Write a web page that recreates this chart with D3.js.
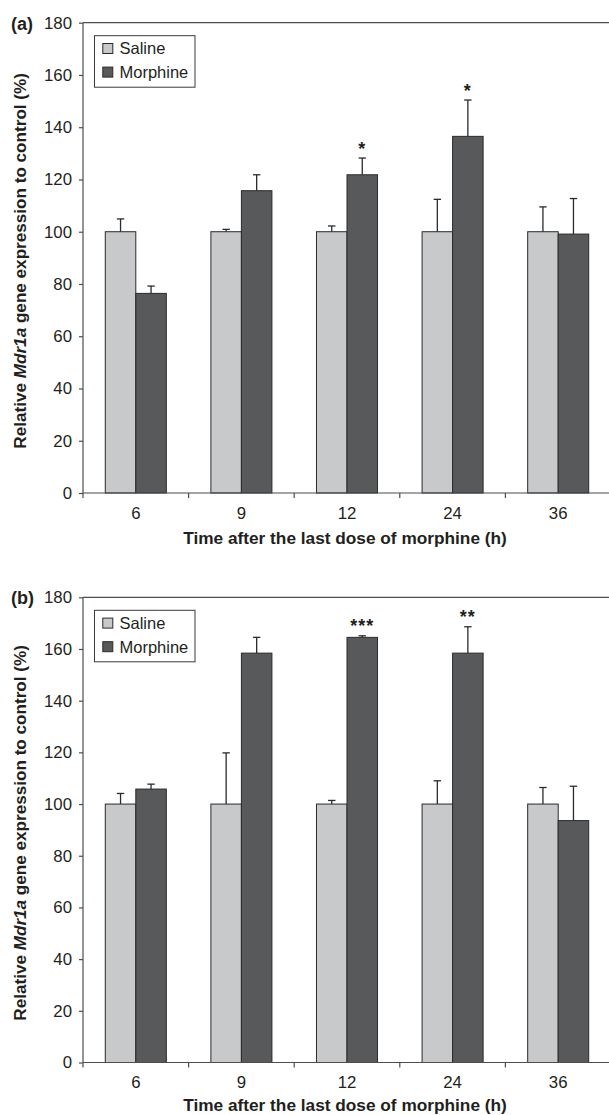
<!DOCTYPE html>
<html><head><meta charset="utf-8">
<script src="https://cdn.jsdelivr.net/npm/d3@7"></script>
<style>
html,body{margin:0;padding:0;background:#fff;}
svg{display:block;}
text{font-family:Arial,"Liberation Sans",Helvetica,sans-serif;fill:#231f20;}
</style></head>
<body>
<svg id="chart" width="609" height="1115"></svg>
<script>
const categories = ["6", "9", "12", "24", "36"];
const seriesNames = ["Saline", "Morphine"];
const yTicks = [0, 20, 40, 60, 80, 100, 120, 140, 160, 180];

// Panel (a)
const salineA = [100, 100, 100, 100, 100];
const salineErrA = [4.9, 0.9, 2.2, 12.4, 9.5];
const morphineA = [76.4, 115.7, 121.8, 136.5, 99.1];
const morphineErrA = [2.8, 6.1, 6.4, 13.9, 13.6];
const sigA = ["", "", "*", "*", ""];

// Panel (b)
const salineB = [100, 100, 100, 100, 100];
const salineErrB = [4.1, 19.8, 1.4, 9.0, 6.4];
const morphineB = [105.8, 158.4, 164.5, 158.4, 93.6];
const morphineErrB = [1.9, 6.1, 0.6, 10.2, 13.3];
const sigB = ["", "", "***", "**", ""];

const colors = {Saline: "#c8c9cb", Morphine: "#58595b"};
const svg = d3.select("#chart");

function fitFont(sel, base, target) {
  const len = sel.node().getComputedTextLength();
  if (len > 0) sel.attr("font-size", base * target / len);
}

function panel(opts) {
  const {label, top, bottom, titleGap, saline, salineErr, morphine, morphineErr, sig} = opts;
  const left = 83, right = 611;
  const g = svg.append("g");
  const x = d3.scaleBand().domain(categories).range([left, right]).padding(0);
  const x1 = d3.scaleBand().domain(seriesNames).range([0, x.bandwidth()]).paddingInner(0).paddingOuter(0.73);
  const y = d3.scaleLinear().domain([0, 180]).range([bottom, top]);

  const rows = categories.map((c, i) => ({
    cat: c,
    vals: [
      {s: "Saline", v: saline[i], e: salineErr[i]},
      {s: "Morphine", v: morphine[i], e: morphineErr[i]}
    ],
    sig: sig[i]
  }));

  // top frame line
  g.append("line").attr("x1", left).attr("x2", right).attr("y1", y(180)).attr("y2", y(180))
    .attr("stroke", "#4d4d4d").attr("stroke-width", 1.2);

  // bars
  const grp = g.selectAll("g.grp").data(rows).join("g").attr("class", "grp")
    .attr("transform", d => `translate(${x(d.cat)},0)`);
  grp.selectAll("line.err").data(d => d.vals).join("line").attr("class", "err")
    .attr("x1", d => x1(d.s) + x1.bandwidth() / 2).attr("x2", d => x1(d.s) + x1.bandwidth() / 2)
    .attr("y1", d => y(d.v)).attr("y2", d => y(d.v + d.e))
    .attr("stroke", "#2b2b2b").attr("stroke-width", 1.3);
  grp.selectAll("line.cap").data(d => d.vals).join("line").attr("class", "cap")
    .attr("x1", d => x1(d.s) + x1.bandwidth() / 2 - 3.7).attr("x2", d => x1(d.s) + x1.bandwidth() / 2 + 3.7)
    .attr("y1", d => y(d.v + d.e)).attr("y2", d => y(d.v + d.e))
    .attr("stroke", "#2b2b2b").attr("stroke-width", 1.3);
  grp.selectAll("rect").data(d => d.vals).join("rect")
    .attr("x", d => x1(d.s)).attr("width", x1.bandwidth())
    .attr("y", d => y(d.v)).attr("height", d => y(0) - y(d.v))
    .attr("fill", d => colors[d.s]).attr("stroke", "#2a2a2a").attr("stroke-width", 1);
  grp.filter(d => d.sig).append("text")
    .attr("x", x1("Morphine") + x1.bandwidth() / 2)
    .attr("y", d => y(d.vals[1].v + d.vals[1].e) - 3.5)
    .attr("text-anchor", "middle").attr("font-size", 18).attr("font-weight", "bold")
    .attr("letter-spacing", 1)
    .text(d => d.sig);

  // y axis
  const ya = g.append("g").attr("transform", `translate(${left},0)`)
    .call(d3.axisLeft(y).tickValues(yTicks).tickSize(4).tickPadding(7).tickFormat(d3.format("d")));
  ya.select(".domain").attr("stroke", "#4d4d4d").attr("stroke-width", 1.2).attr("d", `M0,${top}V${bottom}`);
  ya.selectAll(".tick line").attr("stroke", "#4d4d4d").attr("stroke-width", 1.2);
  ya.selectAll(".tick text").attr("font-size", 16.8).attr("fill", "#231f20")
    .attr("font-family", "Arial, 'Liberation Sans', sans-serif");

  // x axis
  const xa = g.append("g").attr("transform", `translate(0,${bottom})`)
    .call(d3.axisBottom(x).tickSize(0).tickPadding(14));
  xa.select(".domain").attr("stroke", "#4d4d4d").attr("stroke-width", 1.2).attr("d", `M${left},0H${right}`);
  xa.selectAll(".tick text").attr("font-size", 16.8).attr("fill", "#231f20")
    .attr("font-family", "Arial, 'Liberation Sans', sans-serif");
  g.selectAll("line.xt").data(categories).join("line").attr("class", "xt")
    .attr("x1", d => x(d)).attr("x2", d => x(d)).attr("y1", bottom).attr("y2", bottom + 5)
    .attr("stroke", "#4d4d4d").attr("stroke-width", 1.2);

  // x title
  const xt = g.append("text").attr("x", 345).attr("y", bottom + titleGap)
    .attr("text-anchor", "middle").attr("font-size", 15).attr("font-weight", "bold")
    .text("Time after the last dose of morphine (h)");
  fitFont(xt, 15, 324);

  // y title
  const yt = g.append("text")
    .attr("transform", `translate(26,${(top + bottom) / 2 + 3}) rotate(-90)`)
    .attr("text-anchor", "middle").attr("font-size", 15).attr("font-weight", "bold");
  yt.append("tspan").text("Relative ");
  yt.append("tspan").attr("font-style", "italic").text("Mdr1a");
  yt.append("tspan").text(" gene expression to control (%)");
  fitFont(yt, 15, 376);

  // panel label
  g.append("text").attr("x", 11).attr("y", top + 7).attr("font-size", 18).attr("font-weight", "bold").text(label);

  // legend
  const lg = g.append("g").attr("transform", `translate(94.5,${top + 13})`);
  lg.append("rect").attr("width", 100.5).attr("height", 51.5).attr("fill", "#fff")
    .attr("stroke", "#3a3a3a").attr("stroke-width", 1);
  seriesNames.forEach((s, i) => {
    const cy = 12.8 + i * 23.6;
    lg.append("rect").attr("x", 8.3).attr("y", cy - 5).attr("width", 10).attr("height", 10)
      .attr("fill", colors[s]).attr("stroke", "#2a2a2a").attr("stroke-width", 1);
    lg.append("text").attr("x", 25).attr("y", cy + 6).attr("font-size", 16.5).text(s);
  });
}

panel({label: "(a)", top: 22.7, bottom: 493, titleGap: 51, saline: salineA, salineErr: salineErrA,
  morphine: morphineA, morphineErr: morphineErrA, sig: sigA});
panel({label: "(b)", top: 597.3, bottom: 1062.5, titleGap: 48, saline: salineB, salineErr: salineErrB,
  morphine: morphineB, morphineErr: morphineErrB, sig: sigB});
</script>
</body></html>
